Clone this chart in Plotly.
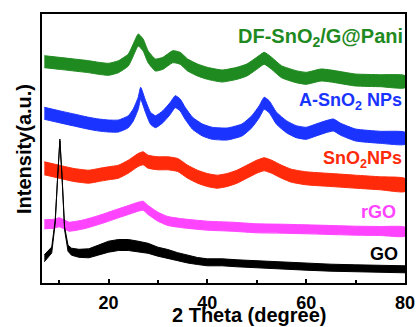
import plotly.graph_objects as go

# ---- data (2 theta in degrees, intensity in arbitrary stacked units) ----
go_x = [7, 8.5, 9.2, 9.7, 10.15, 10.6, 11.1, 11.8, 12.5, 14, 16, 18, 20, 22, 24, 26, 28, 30, 32, 34, 36, 38, 40, 43, 46, 50, 55, 60, 65, 70, 75, 80]
go_y = [24.7, 33, 61.3, 108, 143, 104.7, 54.7, 34.7, 31.3, 29.7, 29.7, 33, 36.3, 38, 38, 36.3, 34.7, 31.3, 29, 26.3, 24, 22, 20.7, 20.7, 19.7, 18.7, 17.3, 16.3, 15.3, 14.7, 14, 13.7]
go_noise = [3.5, 3, 1.5, 1, 1, 1, 1.5, 3, 3.5, 4, 4.5, 5, 5.5, 5.5, 5.5, 5.5, 5, 4.5, 4.5, 4, 4, 3.5, 3.5, 3.5, 3.5, 3.5, 3.5, 3.5, 3.5, 3.5, 3.5, 3.5]

rgo_x = [7, 9, 10, 11, 12, 15, 18, 20, 22, 24, 26, 27, 28, 30, 32, 35, 40, 45, 50, 55, 60, 65, 70, 75, 80]
rgo_y = [58.7, 59.3, 60.7, 58.7, 56.3, 58.7, 63, 66.3, 69.7, 73, 76.3, 77.3, 73, 66.3, 62, 59.7, 57.3, 56.3, 54.7, 54.3, 53.7, 53, 52.3, 52, 51.3]
rgo_noise = 4.5

sno2_x = [7, 10, 13, 16, 18, 20, 22, 24, 25, 26, 27, 28, 30, 32, 34, 36, 38, 40, 42, 44, 46, 48, 50, 51.5, 53, 55, 57, 60, 65, 70, 75, 80]
sno2_y = [114.7, 111.3, 108, 106.3, 108, 109.7, 111.3, 116.3, 119.7, 123, 124.7, 121.3, 119.7, 119.7, 118, 111.3, 106.3, 103, 101.3, 103, 106.3, 111.3, 116.3, 118.7, 116.3, 111.3, 107.3, 104.7, 103, 101.3, 99.7, 98]
sno2_noise = 6.5

asno2_x = [7, 10, 13, 16, 18, 20, 22, 24, 25, 26, 26.5, 27.5, 28.5, 29.5, 31, 32.5, 33.5, 34.5, 35.5, 37, 39, 41, 44, 47, 49, 50.5, 51.5, 52.5, 54, 56, 58, 60, 62, 64, 65.5, 67, 70, 75, 80]
asno2_y = [169.7, 166.3, 163, 159.7, 158, 157, 157, 161.3, 168, 179.7, 189.7, 176.3, 164.7, 161.3, 166.3, 174.7, 181.3, 178, 169.7, 159.7, 153, 149.7, 149, 153, 161.3, 171.3, 179.7, 176.3, 164.7, 156.3, 151.3, 149.7, 153, 156.3, 158, 153.7, 148, 145.7, 144.7]
asno2_noise = 6

df_x = [7, 10, 13, 16, 18, 20, 22, 24, 25, 26, 27, 28, 29.5, 31, 33, 34.5, 36, 38, 40, 43, 46, 48, 50, 51.5, 53, 55, 58, 60, 63, 65, 70, 75, 80]
df_y = [221.3, 219.7, 218, 216.3, 214.7, 213.7, 216.3, 223, 233, 243, 238, 226.3, 218, 219.7, 226.3, 224.7, 218, 213, 209.7, 207, 209.7, 213, 219.7, 224.7, 219.7, 211.3, 206.3, 204.7, 208, 207, 203, 202.3, 201.3]
df_noise = 6

x_ticks = [20, 40, 60, 80]
x_minor = [10, 30, 50, 70]

series = [
    ("DF-SnO<sub>2</sub>/G@Pani", df_x, df_y, df_noise, "#1f8a1f", "spline"),
    ("A-SnO<sub>2</sub> NPs", asno2_x, asno2_y, asno2_noise, "#1a33ff", "spline"),
    ("SnO<sub>2</sub>NPs", sno2_x, sno2_y, sno2_noise, "#ff2a0a", "spline"),
    ("rGO", rgo_x, rgo_y, rgo_noise, "#ff44ff", "spline"),
    ("GO", go_x, go_y, go_noise, "#000000", "linear"),
]

fig = go.Figure()
for name, xs, ys, nz, col, shp in series:
    nzl = nz if isinstance(nz, list) else [nz] * len(xs)
    upper = [y + n for y, n in zip(ys, nzl)]
    lower = [y - n for y, n in zip(ys, nzl)]
    ln = dict(color=col, width=1, shape=shp)
    if shp == "spline":
        ln["smoothing"] = 0.5
    fig.add_trace(go.Scatter(
        x=xs + xs[::-1], y=upper + lower[::-1],
        fill="toself", fillcolor=col, mode="lines", line=ln,
        name=name, showlegend=False, hoverinfo="skip"))

W, H = 418, 327
L, R, T, B = 42, 13, 14, 44
pw, ph = W - L - R, H - T - B

def px(xp):
    return (xp - L) / pw

def py(yp):
    return (H - B - yp) / ph

fnt = "Arial, Liberation Sans, sans-serif"
labels = [
    ("DF-SnO<sub>2</sub>/G@Pani", 405, 37, 20, "#1f8a1f"),
    ("A-SnO<sub>2</sub> NPs", 404, 101, 18, "#1a33ff"),
    ("SnO<sub>2</sub>NPs", 404, 159, 18, "#ff2a0a"),
    ("rGO", 398, 212, 18, "#ff44ff"),
    ("GO", 400, 254, 18, "#000000"),
]
ann = []
for txt, xp, yp, sz, col in labels:
    ann.append(dict(text="<b>" + txt + "</b>", x=px(xp), y=py(yp), xref="paper", yref="paper",
                    xanchor="right", yanchor="middle", showarrow=False,
                    font=dict(family=fnt, size=sz, color=col)))
ann.append(dict(text="<b>2 Theta (degree)</b>", x=px(248.5), y=py(315), xref="paper", yref="paper",
                xanchor="center", yanchor="middle", showarrow=False,
                font=dict(family=fnt, size=20, color="black")))
ann.append(dict(text="<b>Intensity(a.u.)</b>", x=px(24), y=py(149), xref="paper", yref="paper",
                xanchor="center", yanchor="middle", textangle=-90, showarrow=False,
                font=dict(family=fnt, size=20, color="black")))

fig.update_layout(
    width=W, height=H, margin=dict(l=L, r=R, t=T, b=B, autoexpand=False),
    paper_bgcolor="white", plot_bgcolor="white",
    font=dict(family=fnt, color="black"),
    annotations=ann, showlegend=False,
)
fig.update_xaxes(range=[6.53, 80], tickmode="array", tickvals=x_ticks,
                 ticktext=["<b>%d</b>" % v for v in x_ticks],
                 ticks="inside", ticklen=4, tickwidth=1.5, tickcolor="black",
                 minor=dict(tickmode="array", tickvals=x_minor, ticks="inside", ticklen=3, tickwidth=1.5, tickcolor="black"),
                 tickfont=dict(family=fnt, size=18, color="black"),
                 showline=True, linecolor="black", linewidth=1.5, mirror=True,
                 showgrid=False, zeroline=False, ticklabelstandoff=3, automargin=False)
fig.update_yaxes(range=[0, ph], showticklabels=False, ticks="",
                 showline=True, linecolor="black", linewidth=1.5, mirror=True,
                 showgrid=False, zeroline=False, automargin=False)

fig.write_html("out.html",
               config={"displayModeBar": False},
               default_width="418px", default_height="327px",
               post_script="document.body.style.margin='0';document.body.style.padding='0';"
                           "document.documentElement.style.overflow='hidden';")
